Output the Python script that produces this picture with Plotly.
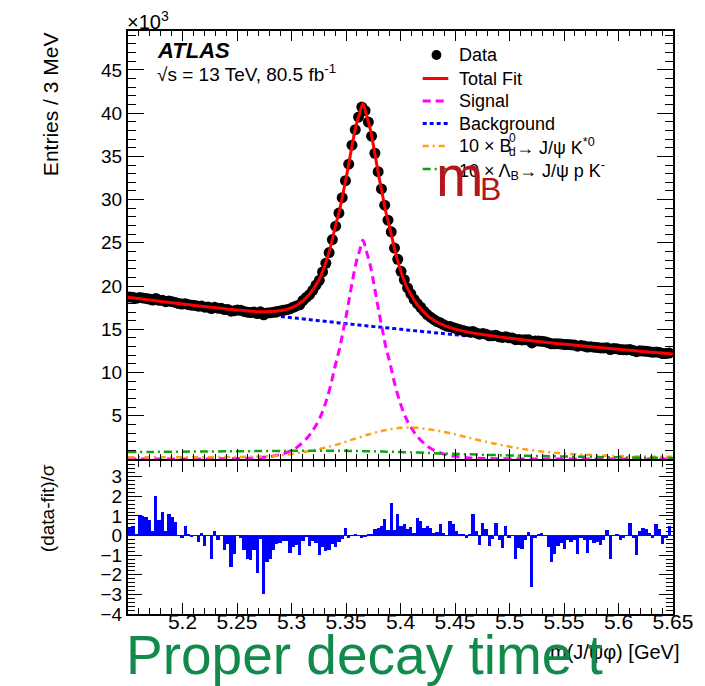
import numpy as np
import plotly.graph_objects as go

# ---------------------------------------------------------------- data
# 3 MeV histogram bins of m(J/psi phi), starting at 5.15 GeV
bin_lo, bin_w = 5.15, 0.003

# Data: entries per bin, in units of 10^3
data_k = [
    18.74, 18.70, 18.59, 18.67, 18.63, 18.57, 18.50, 18.38, 18.57, 18.36,
    18.37, 18.19, 18.26, 18.20, 18.11, 17.98, 17.92, 17.96, 17.85, 17.79,
    17.76, 17.67, 17.69, 17.56, 17.58, 17.40, 17.54, 17.44, 17.43, 17.29,
    17.29, 17.10, 17.15, 17.23, 17.19, 17.07, 16.98, 16.94, 16.99, 16.82,
    17.02, 16.67, 16.89, 16.91, 16.98, 17.05, 17.12, 17.20, 17.27, 17.35,
    17.55, 17.70, 17.83, 18.33, 18.69, 19.00, 19.51, 20.11, 20.66, 21.64,
    22.64, 23.87, 25.38, 26.93, 28.44, 30.22, 32.19, 34.10, 36.30, 38.09,
    39.55, 40.70, 40.28, 38.97, 37.34, 35.36, 33.23, 31.23, 29.35, 27.62,
    26.27, 24.39, 23.10, 21.70, 20.73, 19.79, 19.11, 18.45, 17.97, 17.55,
    17.09, 16.71, 16.40, 16.14, 15.90, 15.75, 15.53, 15.36, 15.31, 15.19,
    15.05, 14.94, 14.85, 14.75, 14.70, 14.75, 14.58, 14.43, 14.52, 14.43,
    14.25, 14.25, 14.31, 14.14, 14.06, 14.14, 14.01, 14.00, 13.80, 13.83,
    13.77, 13.78, 13.78, 13.43, 13.66, 13.66, 13.62, 13.57, 13.45, 13.33,
    13.32, 13.34, 13.30, 13.24, 13.24, 13.20, 13.18, 13.05, 13.12, 13.07,
    12.95, 12.99, 12.93, 12.90, 12.85, 12.85, 12.87, 12.66, 12.77, 12.75,
    12.66, 12.64, 12.63, 12.66, 12.54, 12.41, 12.51, 12.49, 12.46, 12.41,
    12.34, 12.38, 12.32, 12.20, 12.20, 12.25,
]

# Pull per bin, (data - fit) / sigma
pulls = [
    0.45, 0.5, 0.05, 1.0, 1.0, 0.95, 0.8, 0.25, 2.0, 0.8,
    1.2, 0.25, 1.1, 0.95, 0.7, 0.0, -0.1, 0.5, 0.1, -0.05,
    0.0, -0.35, 0.15, -0.55, 0.0, -1.2, 0.25, -0.25, 0.0, -0.75,
    -0.45, -1.6, -0.95, 0.0, -0.1, -0.75, -1.2, -1.25, -0.75, -1.9,
    -0.2, -3.0, -1.35, -1.2, -0.75, -0.45, -0.4, -0.3, -0.3, -0.9,
    -0.6, -0.5, -1.0, -0.3, -0.05, -0.55, -0.3, -0.4, -1.0, -0.6,
    -0.8, -0.75, -0.45, -0.6, -0.35, -0.2, 0.4, -0.1, 0.02, 0.03,
    0.0, -0.1, -0.05, 0.1, 0.1, 0.35, 0.4, 0.5, 0.85, 0.3,
    1.65, 0.3, 1.1, 0.5, 0.6, 0.35, 0.45, 0.15, 0.9, 0.75,
    0.4, 0.5, 0.4, 0.15, 0.2, 0.6, 0.15, 0.0, 0.75, 0.6,
    0.25, 0.1, 0.05, -0.1, 0.05, 1.1, 0.25, -0.5, 0.65, 0.35,
    -0.55, -0.2, 0.65, -0.25, -0.65, 0.5, -0.15, 0.0, -1.2, -0.65,
    -0.7, -0.25, 0.2, -2.6, -0.15, 0.1, 0.15, 0.0, -0.6, -1.35,
    -0.95, -0.55, -0.4, -0.7, -0.25, -0.35, -0.25, -0.95, -0.1, -0.25,
    -0.9, -0.25, -0.4, -0.35, -0.5, -0.25, 0.3, -1.2, 0.0, 0.05,
    -0.25, -0.15, 0.0, 0.65, -0.1, -1.0, 0.25, 0.4, 0.35, 0.15,
    -0.1, 0.6, 0.35, -0.45, -0.15, 0.5,
]

# Fit components sampled along the mass axis (10^3 entries / 3 MeV)
fit_x = [5.150, 5.170, 5.190, 5.2155, 5.2455, 5.2705, 5.2855, 5.2955, 5.3055,
         5.3155, 5.3205, 5.3255, 5.3305, 5.3355, 5.3405, 5.3445, 5.3475, 5.3505,
         5.3535, 5.3565, 5.3595, 5.3625, 5.3655, 5.3685, 5.3715, 5.3745, 5.3775,
         5.3805, 5.3835, 5.3865, 5.3905, 5.3955, 5.4005, 5.4055, 5.4105, 5.4155,
         5.4255, 5.4355, 5.4455, 5.4605, 5.4855, 5.5155, 5.545, 5.575, 5.600,
         5.625, 5.650]
total_fit = [18.70, 18.38, 18.07, 17.70, 17.28, 17.04, 17.08, 17.30, 17.83,
             18.92, 19.76, 20.80, 22.36, 24.40, 27.05, 29.01, 30.87, 32.75,
             34.82, 36.89, 38.66, 39.93, 41.11, 39.88, 38.55, 36.72, 34.59,
             32.46, 30.53, 28.60, 26.56, 23.80, 21.64, 19.97, 18.81, 17.84,
             16.50, 15.70, 15.19, 14.70, 14.21, 13.74, 13.34, 12.98, 12.68,
             12.40, 12.14]
signal = [0, 0, 0, 0.01, 0.04, 0.15, 0.40, 0.75, 1.40,
          2.60, 3.50, 4.60, 6.20, 8.30, 11.0, 13.0, 14.9, 16.8,
          18.9, 21.0, 22.8, 24.1, 25.3, 24.1, 22.8, 21.0, 18.9,
          16.8, 14.9, 13.0, 11.0, 8.3, 6.2, 4.6, 3.5, 2.6,
          1.4, 0.75, 0.40, 0.15, 0.04, 0.01, 0, 0, 0,
          0, 0]
background = [18.60, 18.28, 17.97, 17.58, 17.13, 16.77, 16.55, 16.41, 16.27,
              16.13, 16.06, 15.99, 15.93, 15.86, 15.79, 15.74, 15.69, 15.65,
              15.61, 15.57, 15.53, 15.49, 15.45, 15.41, 15.37, 15.33, 15.29,
              15.26, 15.22, 15.18, 15.13, 15.06, 15.00, 14.93, 14.87, 14.80,
              14.68, 14.55, 14.43, 14.24, 13.94, 13.58, 13.24, 12.91, 12.63,
              12.36, 12.10]
bd_x10 = [0.20, 0.20, 0.20, 0.21, 0.23, 0.28, 0.38, 0.50, 0.68,
          0.90, 1.02, 1.15, 1.30, 1.46, 1.63, 1.78, 1.90, 2.02,
          2.14, 2.27, 2.40, 2.52, 2.64, 2.76, 2.87, 2.98, 3.08,
          3.17, 3.26, 3.34, 3.44, 3.54, 3.61, 3.65, 3.64, 3.60,
          3.45, 3.24, 2.98, 2.52, 1.80, 1.10, 0.68, 0.45, 0.34,
          0.28, 0.25]
lb_x10 = [0.80, 0.82, 0.84, 0.86, 0.89, 0.92, 0.93, 0.94, 0.95,
          0.96, 0.96, 0.96, 0.96, 0.96, 0.95, 0.95, 0.94, 0.94,
          0.93, 0.93, 0.92, 0.92, 0.91, 0.90, 0.90, 0.89, 0.88,
          0.87, 0.86, 0.85, 0.84, 0.82, 0.80, 0.78, 0.76, 0.74,
          0.70, 0.65, 0.61, 0.55, 0.46, 0.37, 0.30, 0.24, 0.19,
          0.15, 0.12]

# Axis ticks
x_ticks = [5.2, 5.25, 5.3, 5.35, 5.4, 5.45, 5.5, 5.55, 5.6, 5.65]
x_labels = ["5.2", "5.25", "5.3", "5.35", "5.4", "5.45", "5.5", "5.55", "5.6", "5.65"]
y_ticks = [5, 10, 15, 20, 25, 30, 35, 40, 45]
pull_ticks = [-4, -3, -2, -1, 0, 1, 2, 3]

bin_centers = bin_lo + bin_w * (np.arange(len(data_k)) + 0.5)

# ---------------------------------------------------------------- styles
RED, MAGENTA, BLUE = "#ff0000", "#ff00ff", "#0000ff"
ORANGE, GREEN = "#ffa012", "#10a010"
DASH_SIG, DASH_BKG = "8px,5px", "4px,3px"
DASH_BD, DASH_LB = "6px,4px,2px,4px", "8px,4px,2px,4px"

# ---------------------------------------------------------------- layout geometry
W, H = 705, 686
ML, MR, MT, MB = 128, 24, 31, 72
PW, PH = W - ML - MR, H - MT - MB
FONT = "Liberation Sans, Arial, Helvetica, sans-serif"


def px_x(px):
    return (px - ML) / PW


def px_y(py):
    return (H - MB - py) / PH


main_dom = [px_y(459), 1.0]
pull_dom = [0.0, px_y(461)]

fig = go.Figure()

curve_style = dict(mode="lines", line_shape="spline", xaxis="x", yaxis="y", showlegend=False)
fig.add_trace(go.Scatter(x=fit_x, y=background, name="Background",
                         line=dict(color=BLUE, width=3, dash=DASH_BKG), **curve_style))
fig.add_trace(go.Scatter(x=fit_x, y=signal, name="Signal",
                         line=dict(color=MAGENTA, width=3, dash=DASH_SIG), **curve_style))
fig.add_trace(go.Scatter(x=fit_x, y=bd_x10, name="10 x Bd",
                         line=dict(color=ORANGE, width=2.5, dash=DASH_BD), **curve_style))
fig.add_trace(go.Scatter(x=fit_x, y=lb_x10, name="10 x Lb",
                         line=dict(color=GREEN, width=2.5, dash=DASH_LB), **curve_style))
fig.add_trace(go.Scatter(x=bin_centers, y=data_k, name="Data", mode="markers", showlegend=False,
                         marker=dict(color="black", size=11), xaxis="x", yaxis="y"))
fig.add_trace(go.Scatter(x=fit_x, y=total_fit, name="Total Fit",
                         line=dict(color=RED, width=3), **curve_style))

# Pull histogram
fig.add_trace(go.Bar(x=bin_centers, y=pulls, width=bin_w, showlegend=False,
                     marker=dict(color=BLUE, line=dict(width=0)),
                     xaxis="x2", yaxis="y2"))

axis_common = dict(showline=True, linecolor="black", linewidth=2, mirror="allticks",
                   ticks="inside", tickcolor="black", tickwidth=1.2,
                   showgrid=False, zeroline=False,
                   tickfont=dict(family=FONT, size=19, color="black"))

fig.update_layout(
    width=W, height=H,
    margin=dict(l=ML, r=MR, t=MT, b=MB),
    paper_bgcolor="white", plot_bgcolor="white",
    bargap=0, showlegend=False,
    font=dict(family=FONT, color="black"),
    xaxis=dict(domain=[0, 1], anchor="y", range=[5.15, 5.65], showticklabels=False,
               tickmode="array", tickvals=x_ticks, ticklen=10,
               minor=dict(tick0=5.15, dtick=0.01, ticklen=5, ticks="inside",
                          tickcolor="black", tickwidth=1),
               **axis_common),
    yaxis=dict(domain=main_dom, anchor="x", range=[0, 49.5],
               tickmode="array", tickvals=y_ticks, ticktext=[str(v) for v in y_ticks],
               ticklen=16,
               minor=dict(tick0=0, dtick=1, ticklen=8, ticks="inside",
                          tickcolor="black", tickwidth=1),
               **axis_common),
    xaxis2=dict(domain=[0, 1], anchor="y2", range=[5.15, 5.65],
                tickmode="array", tickvals=x_ticks, ticktext=x_labels, ticklen=11,
                ticklabelstandoff=-12,
                minor=dict(tick0=5.15, dtick=0.01, ticklen=6, ticks="inside",
                           tickcolor="black", tickwidth=1),
                **{**axis_common, "tickfont": dict(family=FONT, size=21, color="black")}),
    yaxis2=dict(domain=pull_dom, anchor="x2", range=[-4, 3.8],
                tickmode="array", tickvals=pull_ticks,
                ticktext=[("−" + str(-v)) if v < 0 else str(v) for v in pull_ticks],
                ticklen=14,
                minor=dict(tick0=0, dtick=0.2, ticklen=7, ticks="inside",
                           tickcolor="black", tickwidth=1),
                **axis_common),
)

shapes = []
# Zero line of the pull histogram
shapes.append(dict(type="line", xref="x2", yref="y2", x0=5.15, x1=5.65, y0=0, y1=0,
                   line=dict(color=BLUE, width=1)))

# Legend keys
key_x0, key_x1, key_xc = px_x(427), px_x(453), px_x(441)
rows = [55, 78.5, 101, 123.5, 146, 169]
shapes.append(dict(type="circle", xref="paper", yref="paper",
                   x0=key_xc - 5 / PW, x1=key_xc + 5 / PW,
                   y0=px_y(rows[0]) - 5 / PH, y1=px_y(rows[0]) + 5 / PH,
                   fillcolor="black", line=dict(width=0)))
for row, color, dash, width in [(rows[1], RED, "solid", 3),
                                (rows[2], MAGENTA, DASH_SIG, 3),
                                (rows[3], BLUE, DASH_BKG, 3),
                                (rows[4], ORANGE, DASH_BD, 2.5),
                                (rows[5], GREEN, DASH_LB, 2.5)]:
    shapes.append(dict(type="line", xref="paper", yref="paper",
                       x0=key_x0, x1=key_x1, y0=px_y(row), y1=px_y(row),
                       line=dict(color=color, width=width, dash=dash)))
fig.update_layout(shapes=shapes)

ann = []
LEG = 18
TX = px_x(462)
ann.append(dict(text="Data", x=TX, y=px_y(rows[0]), font=dict(size=LEG)))
ann.append(dict(text="Total Fit", x=TX, y=px_y(rows[1]), font=dict(size=LEG)))
ann.append(dict(text="Signal", x=TX, y=px_y(rows[2]), font=dict(size=LEG)))
ann.append(dict(text="Background", x=TX, y=px_y(rows[3]), font=dict(size=LEG)))
ann.append(dict(text="10 × B", x=TX, y=px_y(rows[4]), font=dict(size=LEG)))
ann.append(dict(text="d", x=px_x(513), y=px_y(rows[4] + 6), font=dict(size=12)))
ann.append(dict(text="0", x=px_x(513), y=px_y(rows[4] - 8), font=dict(size=12)))
ann.append(dict(text="→ J/ψ K<sup>*0</sup>", x=px_x(520), y=px_y(rows[4]), font=dict(size=LEG)))
ann.append(dict(text="10 × Λ<sub>B</sub>→ J/ψ p K<sup>-</sup>", x=TX, y=px_y(rows[5] + 1),
                font=dict(size=LEG)))

ann.append(dict(text="×10<sup>3</sup>", x=px_x(125), y=px_y(20), font=dict(size=20)))
ann.append(dict(text="<b><i>ATLAS</i></b>", x=px_x(155), y=px_y(50), font=dict(size=22)))
ann.append(dict(text="√s = 13 TeV, 80.5 fb<sup>-1</sup>", x=px_x(155), y=px_y(73),
                font=dict(size=19)))
ann.append(dict(text="Entries / 3 MeV", x=px_x(50), y=px_y(104), textangle=-90,
                xanchor="center", font=dict(size=21)))
ann.append(dict(text="(data-fit)/σ", x=px_x(47), y=px_y(508), textangle=-90,
                xanchor="center", font=dict(size=19)))
ann.append(dict(text="m(J/ψφ) [GeV]", x=px_x(689), y=px_y(652), xanchor="right",
                font=dict(size=20)))
ann.append(dict(text="m", x=px_x(438), y=px_y(176), font=dict(size=57, color="#b5161c")))
ann.append(dict(text="B", x=px_x(483), y=px_y(189), font=dict(size=32, color="#b5161c")))
ann.append(dict(text="Proper decay time t", x=px_x(124), y=px_y(655),
                font=dict(size=55, color="#128a4c")))
for a in ann:
    a.setdefault("xanchor", "left")
    a.setdefault("yanchor", "middle")
    a.update(xref="paper", yref="paper", showarrow=False)
fig.update_layout(annotations=ann)

fig.write_html("out.html")
